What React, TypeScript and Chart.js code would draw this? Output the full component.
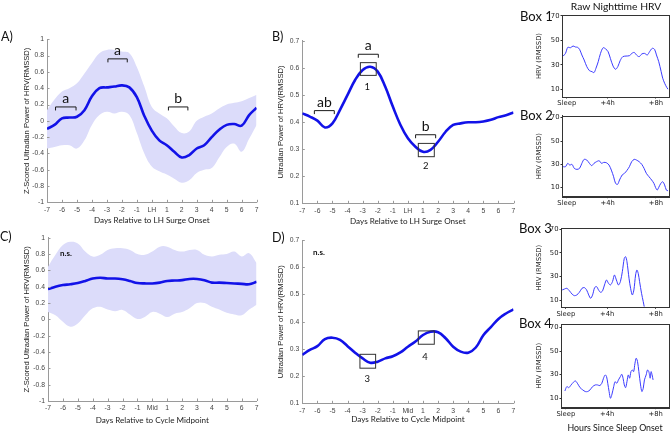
import React, { useEffect, useRef } from 'react';
import { Chart, registerables } from 'chart.js';
Chart.register(...registerables);

// ---------- data ----------
const DAYS = [-7,-6.5,-6,-5.5,-5,-4.5,-4,-3.5,-3,-2.5,-2,-1.5,-1,-0.5,0,0.5,1,1.5,2,2.5,3,3.5,4,4.5,5,5.5,6,6.5,7];

const A_MEAN = [-0.10,-0.05,0.03,0.04,0.05,0.13,0.30,0.40,0.41,0.42,0.435,0.41,0.29,0.06,-0.12,-0.24,-0.30,-0.38,-0.45,-0.42,-0.34,-0.30,-0.20,-0.11,-0.05,-0.04,-0.06,0.07,0.16];
const A_UPPER = [0.13,0.26,0.36,0.40,0.46,0.58,0.71,0.83,0.87,0.87,0.85,0.83,0.66,0.42,0.17,0.09,0.03,-0.07,-0.15,-0.13,0.0,0.05,0.09,0.15,0.20,0.22,0.24,0.28,0.32];
const A_LOWER = [-0.34,-0.32,-0.30,-0.30,-0.34,-0.24,-0.05,0.07,0.11,0.09,0.11,0.07,-0.15,-0.40,-0.56,-0.62,-0.66,-0.71,-0.76,-0.73,-0.64,-0.60,-0.58,-0.45,-0.32,-0.28,-0.38,-0.22,-0.05];

const B_MEAN = [0.432,0.42,0.405,0.38,0.395,0.445,0.50,0.555,0.592,0.604,0.586,0.53,0.457,0.39,0.34,0.309,0.29,0.297,0.327,0.364,0.389,0.395,0.399,0.399,0.402,0.408,0.418,0.425,0.435];

const C_MEAN = [0.37,0.40,0.42,0.43,0.445,0.47,0.50,0.51,0.50,0.50,0.49,0.47,0.445,0.44,0.44,0.45,0.47,0.475,0.48,0.495,0.495,0.48,0.45,0.45,0.445,0.44,0.435,0.43,0.46];
const C_UPPER = [0.645,0.79,0.91,0.95,0.93,0.83,0.77,0.79,0.85,0.87,0.87,0.85,0.80,0.79,0.83,0.89,0.89,0.85,0.83,0.85,0.85,0.79,0.77,0.79,0.80,0.83,0.77,0.81,0.69];
const C_LOWER = [0.09,0.05,-0.03,-0.09,-0.05,0.05,0.135,0.155,0.12,0.10,0.115,0.06,0.005,0.03,0.09,0.07,0.03,0.07,0.09,0.135,0.20,0.20,0.155,0.12,0.08,0.06,0.05,0.12,0.18];

const D_MEAN = [0.278,0.296,0.31,0.336,0.341,0.333,0.31,0.286,0.265,0.249,0.253,0.265,0.273,0.287,0.308,0.327,0.351,0.363,0.361,0.339,0.308,0.29,0.286,0.305,0.35,0.38,0.41,0.43,0.445];

const A_TICKS_Y = { min: -1, max: 1, step: 0.2 };
const B_TICKS_Y = { min: 0.1, max: 0.7, step: 0.1 };

const A_BRACKETS = [
  { from: -6.43, to: -5.06, y: 0.17, label: 'a' },
  { from: -2.93, to: -1.64, y: 0.76, label: 'a' },
  { from: 1.11, to: 2.41, y: 0.17, label: 'b' },
];
const B_BRACKETS = [
  { from: -6.2, to: -4.88, y: 0.442, label: 'ab' },
  { from: -3.29, to: -1.96, y: 0.65, label: 'a' },
  { from: 0.51, to: 1.84, y: 0.353, label: 'b' },
];
const B_BOXES = [
  { x0: -3.15, x1: -2.1, y0: 0.572, y1: 0.619, label: '1', lx: -2.69, ly: 0.528 },
  { x0: 0.69, x1: 1.75, y0: 0.272, y1: 0.321, label: '2', lx: 1.18, ly: 0.239 },
];
const D_BOXES = [
  { x0: -3.18, x1: -2.14, y0: 0.229, y1: 0.28, label: '3', lx: -2.69, ly: 0.188 },
  { x0: 0.69, x1: 1.75, y0: 0.317, y1: 0.366, label: '4', lx: 1.13, ly: 0.271 },
];
const C_NOTE = { x: -5.8, y: 0.81, text: 'n.s.' };
const D_NOTE = { x: -5.9, y: 0.655, text: 'n.s.' };

// raw nighttime HRV: [hours since sleep onset, RMSSD]
const BOX1 = [[0.30,37.1],[0.49,39.3],[0.68,44.2],[0.90,43.9],[1.12,45.3],[1.31,44.5],[1.50,44.2],[1.66,42.6],[1.85,38],[2.04,33.9],[2.26,28.5],[2.48,25.2],[2.69,24.4],[2.86,23.6],[3.02,27.1],[3.21,32.5],[3.40,39.3],[3.62,43.9],[3.84,42.8],[4.03,40.7],[4.22,35.2],[4.44,29],[4.65,26.3],[4.84,28.5],[5.03,33.3],[5.25,36.6],[5.52,37.1],[5.80,37.4],[6.01,39.3],[6.20,40.1],[6.39,38],[6.61,36.6],[6.83,38.8],[7.05,39.3],[7.29,38],[7.48,40.7],[7.70,43.4],[7.89,42.6],[8.05,38],[8.24,32.5],[8.44,24.4],[8.57,19],[8.73,14.9],[8.90,11.6],[9.01,10]];
const BOX2 = [[0.30,28],[0.49,28],[0.68,30.9],[0.84,29.4],[1.03,30],[1.22,26.6],[1.44,25.7],[1.66,26.6],[1.85,30.9],[2.04,34.3],[2.26,33.7],[2.48,30.9],[2.67,28.9],[2.86,30.9],[3.07,32.3],[3.29,33.1],[3.48,30.9],[3.67,31.7],[3.89,31.4],[4.11,29.4],[4.30,25.1],[4.49,19.4],[4.65,13.7],[4.82,12.9],[4.98,16.6],[5.20,20.9],[5.39,22.3],[5.58,24.6],[5.80,28],[5.99,32.3],[6.20,34.3],[6.39,33.7],[6.61,32.3],[6.83,30],[7.02,26.6],[7.21,22.3],[7.43,19.4],[7.65,16.6],[7.84,13.7],[7.97,10.3],[8.11,8],[8.24,10.3],[8.41,13.7],[8.57,15.1],[8.73,12.3],[8.87,8],[9.01,7.4]];
const BOX3 = [[0.30,18.7],[0.49,19.5],[0.68,20.1],[0.90,17.9],[1.12,15.1],[1.31,13.9],[1.50,14.5],[1.71,16.7],[1.93,20.1],[2.12,20.7],[2.31,18.7],[2.48,14.5],[2.64,11.7],[2.80,14.5],[2.97,20.7],[3.13,21.5],[3.29,18.7],[3.46,16.7],[3.62,17.9],[3.78,22.9],[3.95,27.1],[4.11,24.3],[4.27,22.9],[4.44,25.7],[4.60,31.3],[4.76,27.1],[4.93,22.9],[5.09,25.7],[5.25,34.1],[5.41,45.3],[5.52,46.7],[5.63,42.5],[5.80,28.5],[5.93,20.1],[6.07,14.5],[6.20,18.7],[6.34,31.3],[6.45,35.5],[6.56,32.5],[6.67,25.7],[6.83,15.9],[6.97,8.9],[7.05,4.7]];
const BOX4 = [[0.52,16.2],[0.68,19.9],[0.84,19],[1.03,21.3],[1.22,23.6],[1.39,24.7],[1.58,22.2],[1.77,19],[1.99,17.1],[2.20,15.7],[2.39,15.7],[2.59,17.1],[2.80,19.9],[3.02,21.3],[3.21,21.3],[3.40,20.8],[3.56,22.7],[3.70,27],[3.84,29.8],[3.95,28.4],[4.05,22.7],[4.16,15.7],[4.27,10],[4.38,12.8],[4.54,19.9],[4.65,24.1],[4.79,22.7],[4.93,25.6],[5.09,28.4],[5.20,30.4],[5.31,27],[5.41,21.3],[5.52,19],[5.63,24.1],[5.74,29.8],[5.85,27],[5.96,32.6],[6.07,34],[6.18,32.6],[6.29,39.7],[6.39,44],[6.50,41.2],[6.61,32.6],[6.75,21.3],[6.86,15.7],[6.97,18.5],[7.07,25.6],[7.21,29.8],[7.32,34],[7.43,32.6],[7.54,27],[7.62,32.6],[7.70,29.8],[7.78,25.6]];
const SMALL_Y_TICKS = [10, 30, 50, 70];
const SMALL_X_TICKS = [0.6, 4, 8];
const SMALL_X_LABELS = ['Sleep', '+4h', '+8h'];

// ---------- styles / layout ----------
const LINE = '#1212e8';
const BAND = '#dcdcfa';
const AXIS = '#9a9a9a';
const TICK_FONT = { family: 'Liberation Sans', size: 6.8 };
const Y_TITLE_FONT = { family: 'Liberation Sans', size: 7.6 };
const X_TITLE_FONT = { family: 'Lato', size: 8.1 };
const SMALL_FONT = { family: 'DejaVu Sans', size: 6.8 };

type Box = { l: number; t: number; w: number; h: number };
type Plot = { l: number; t: number; r: number; b: number };

const MAIN_SPECS = [
  { key: 'A', box: { l: 0, t: 25, w: 262, h: 205 }, plot: { l: 47, t: 39.3, r: 259, b: 202.3 }, yTitleX: 27, xTitleY: 220,
    mean: A_MEAN, upper: A_UPPER, lower: A_LOWER, yr: A_TICKS_Y, yTitle: 'Z-Scored Ultradian Power of HRV(RMSSD)',
    xTitle: 'Days Relative to LH Surge Onset', zero: 'LH', brackets: A_BRACKETS, boxes: [], note: null },
  { key: 'B', box: { l: 262, t: 25, w: 258, h: 205 }, plot: { l: 302.3, t: 40.7, r: 513.5, b: 203.3 }, yTitleX: 281, xTitleY: 221,
    mean: B_MEAN, upper: null, lower: null, yr: B_TICKS_Y, yTitle: 'Ultradian Power of HRV(RMSSD)',
    xTitle: 'Days Relative to LH Surge Onset', zero: 'LH', brackets: B_BRACKETS, boxes: B_BOXES, note: null },
  { key: 'C', box: { l: 0, t: 225, w: 262, h: 205 }, plot: { l: 48, t: 237.7, r: 259, b: 401 }, yTitleX: 27, xTitleY: 420,
    mean: C_MEAN, upper: C_UPPER, lower: C_LOWER, yr: A_TICKS_Y, yTitle: 'Z-Scored Ultradian Power of HRV(RMSSD)',
    xTitle: 'Days Relative to Cycle Midpoint', zero: 'Mid', brackets: [], boxes: [], note: C_NOTE },
  { key: 'D', box: { l: 262, t: 225, w: 258, h: 205 }, plot: { l: 302.3, t: 240, r: 513.5, b: 403.3 }, yTitleX: 281, xTitleY: 419,
    mean: D_MEAN, upper: null, lower: null, yr: B_TICKS_Y, yTitle: 'Ultradian Power of HRV(RMSSD)',
    xTitle: 'Days Relative to Cycle Midpoint', zero: 'Mid', brackets: [], boxes: D_BOXES, note: D_NOTE },
];

const SMALL_SPECS = [
  { box: { l: 528, t: 8, w: 142, h: 102 }, plot: { l: 562, t: 15, r: 668.5, b: 97 }, yMin: 3.7, yMax: 70.6, data: BOX1 },
  { box: { l: 528, t: 108, w: 142, h: 100 }, plot: { l: 562, t: 115.7, r: 668.5, b: 196.7 }, yMin: 2.3, yMax: 71.7, data: BOX2 },
  { box: { l: 528, t: 220, w: 142, h: 100 }, plot: { l: 561, t: 228.3, r: 668.5, b: 307.3 }, yMin: 4.1, yMax: 70.6, data: BOX3 },
  { box: { l: 528, t: 318, w: 142, h: 100 }, plot: { l: 561, t: 324, r: 668.5, b: 407.7 }, yMin: 2, yMax: 73, data: BOX4 },
];
const SMALL_Y_TITLE_X = 539;

function fmt(v: number) {
  const r = Math.round(v * 10) / 10;
  return r === 0 ? '0' : String(r);
}

function annotationPlugin(spec: any) {
  return {
    id: 'ann' + spec.key,
    afterDatasetsDraw(chart: any) {
      const { ctx, scales, chartArea: a } = chart;
      const x = scales.x, y = scales.y;
      ctx.save();
      // inward tick marks (MATLAB style)
      ctx.strokeStyle = AXIS;
      ctx.lineWidth = 1;
      ctx.beginPath();
      for (const t of x.ticks) {
        const px = Math.round(x.getPixelForValue(t.value)) + 0.5;
        ctx.moveTo(px, a.bottom); ctx.lineTo(px, a.bottom - 2.5);
      }
      for (const t of y.ticks) {
        const py = Math.round(y.getPixelForValue(t.value)) + 0.5;
        ctx.moveTo(a.left, py); ctx.lineTo(a.left + 2.5, py);
      }
      ctx.stroke();

      ctx.strokeStyle = '#1a1a1a';
      ctx.fillStyle = '#111';
      ctx.textAlign = 'center';
      for (const b of spec.brackets) {
        const x0 = x.getPixelForValue(b.from), x1 = x.getPixelForValue(b.to), py = y.getPixelForValue(b.y);
        ctx.beginPath();
        ctx.moveTo(x0, py + 3.5); ctx.lineTo(x0, py); ctx.lineTo(x1, py); ctx.lineTo(x1, py + 3.5);
        ctx.stroke();
        ctx.font = '14px Lato';
        ctx.textBaseline = 'alphabetic';
        ctx.fillText(b.label, (x0 + x1) / 2, py - 4);
      }
      for (const r of spec.boxes) {
        const x0 = x.getPixelForValue(r.x0), x1 = x.getPixelForValue(r.x1);
        const y0 = y.getPixelForValue(r.y1), y1 = y.getPixelForValue(r.y0);
        ctx.strokeStyle = '#333';
        ctx.strokeRect(x0, y0, x1 - x0, y1 - y0);
        ctx.font = '9.5px Lato';
        ctx.textBaseline = 'middle';
        ctx.fillText(r.label, x.getPixelForValue(r.lx), y.getPixelForValue(r.ly));
      }
      if (spec.note) {
        ctx.font = 'bold 8px Lato';
        ctx.textBaseline = 'middle';
        ctx.fillText(spec.note.text, x.getPixelForValue(spec.note.x), y.getPixelForValue(spec.note.y));
      }
      ctx.restore();
    },
  };
}

function mainConfig(spec: any) {
  const box: Box = spec.box, plot: Plot = spec.plot;
  const yLH = Y_TITLE_FONT.size * 1.2, xLH = X_TITLE_FONT.size * 1.2;
  const padL = spec.yTitleX - box.l - yLH / 2;
  const yW = plot.l - box.l - padL;
  const padR = box.l + box.w - plot.r;
  const padT = plot.t - box.t;
  const padB = box.t + box.h - spec.xTitleY - xLH / 2;
  const xH = box.t + box.h - padB - plot.b;
  const pts = (arr: number[]) => DAYS.map((d, i) => ({ x: d, y: arr[i] }));
  const datasets: any[] = [
    { data: pts(spec.mean), borderColor: LINE, borderWidth: 2.6, pointRadius: 0, tension: 0.4, fill: false },
  ];
  if (spec.upper) {
    datasets.push({ data: pts(spec.upper), borderWidth: 0, borderColor: 'rgba(0,0,0,0)', backgroundColor: BAND, pointRadius: 0, tension: 0.4, fill: '+1' });
    datasets.push({ data: pts(spec.lower), borderWidth: 0, borderColor: 'rgba(0,0,0,0)', pointRadius: 0, tension: 0.4, fill: false });
  }
  return {
    type: 'line',
    data: { datasets },
    options: {
      animation: false, responsive: false, devicePixelRatio: 1,
      layout: { padding: { left: padL, right: padR, top: padT, bottom: padB } },
      plugins: { legend: { display: false }, tooltip: { enabled: false } },
      scales: {
        x: {
          type: 'linear', min: -7, max: 7,
          afterFit: (s: any) => { s.height = xH; },
          ticks: { stepSize: 1, autoSkip: false, maxRotation: 0, padding: 3.5, font: TICK_FONT, color: '#444',
            callback: (v: number) => (v === 0 ? spec.zero : String(v)) },
          grid: { display: true, drawOnChartArea: false, drawTicks: false, color: AXIS },
          border: { display: true, color: AXIS, width: 1 },
          title: { display: true, text: spec.xTitle, font: X_TITLE_FONT, color: '#222', padding: 0 },
        },
        y: {
          type: 'linear', min: spec.yr.min, max: spec.yr.max,
          afterFit: (s: any) => { s.width = yW; },
          ticks: { stepSize: spec.yr.step, padding: 3, font: TICK_FONT, color: '#444', callback: (v: number) => fmt(v) },
          grid: { display: true, drawOnChartArea: false, drawTicks: false, color: AXIS },
          border: { display: true, color: AXIS, width: 1 },
          title: { display: true, text: spec.yTitle, font: Y_TITLE_FONT, color: '#222', padding: 0 },
        },
      },
    },
    plugins: [annotationPlugin(spec)],
  };
}

function smallConfig(spec: any, idx: number) {
  const box: Box = spec.box, plot: Plot = spec.plot;
  const yLH = SMALL_FONT.size * 1.2;
  const padL = SMALL_Y_TITLE_X - box.l - yLH / 2;
  const yW = plot.l - box.l - padL;
  const padR = box.l + box.w - plot.r;
  const padT = plot.t - box.t;
  const xH = box.t + box.h - plot.b;
  return {
    type: 'line',
    data: { datasets: [{ data: spec.data.map((p: number[]) => ({ x: p[0], y: p[1] })), borderColor: '#3b3bff', borderWidth: 1, pointRadius: 0, tension: 0.3, fill: false }] },
    options: {
      animation: false, responsive: false, devicePixelRatio: 1,
      layout: { padding: { left: padL, right: padR, top: padT, bottom: 0 } },
      plugins: { legend: { display: false }, tooltip: { enabled: false } },
      scales: {
        x: {
          type: 'linear', min: 0.2, max: 9.05,
          afterFit: (s: any) => { s.height = xH; },
          afterBuildTicks: (s: any) => { s.ticks = SMALL_X_TICKS.map((v) => ({ value: v })); },
          ticks: { autoSkip: false, maxRotation: 0, padding: 1, font: SMALL_FONT, color: '#222',
            callback: (_v: number, i: number) => SMALL_X_LABELS[i] },
          grid: { display: true, drawOnChartArea: false, tickLength: 1.5, color: '#333' },
          border: { display: true, color: '#333', width: 1 },
        },
        y: {
          type: 'linear', min: spec.yMin, max: spec.yMax,
          afterFit: (s: any) => { s.width = yW; },
          afterBuildTicks: (s: any) => { s.ticks = SMALL_Y_TICKS.map((v) => ({ value: v })); },
          ticks: { padding: 1, font: SMALL_FONT, color: '#222' },
          grid: { display: true, drawOnChartArea: false, tickLength: 1.5, color: '#333' },
          border: { display: true, color: '#333', width: 1 },
          title: { display: true, text: 'HRV (RMSSD)', font: SMALL_FONT, color: '#222', padding: 0 },
        },
      },
    },
    plugins: [{
      id: 'frame' + idx,
      afterDraw(chart: any) {
        const { ctx, chartArea: a } = chart;
        ctx.save();
        ctx.strokeStyle = '#333';
        ctx.lineWidth = 1;
        ctx.strokeRect(Math.round(a.left) + 0.5, Math.round(a.top) + 0.5, Math.round(a.right - a.left), Math.round(a.bottom - a.top));
        ctx.restore();
      },
    }],
  };
}

const TEXTS = [
  { text: 'A)', l: 1, cy: 37, size: 12.5 },
  { text: 'B)', l: 272, cy: 37, size: 12.5 },
  { text: 'C)', l: 0, cy: 237, size: 12.5 },
  { text: 'D)', l: 272, cy: 238, size: 12.5 },
  { text: 'Box 1', l: 520, cy: 16, size: 13 },
  { text: 'Box 2', l: 520, cy: 115, size: 13 },
  { text: 'Box 3', l: 519, cy: 228, size: 13 },
  { text: 'Box 4', l: 519, cy: 323, size: 13 },
];
const CENTER_TEXTS = [
  { text: 'Raw Nighttime HRV', cx: 616, cy: 5.5, size: 10.3 },
  { text: 'Hours Since Sleep Onset', cx: 615, cy: 427.5, size: 8.8 },
];

export default function App() {
  const mainRefs = useRef<(HTMLCanvasElement | null)[]>([]);
  const smallRefs = useRef<(HTMLCanvasElement | null)[]>([]);
  useEffect(() => {
    const charts: Chart[] = [];
    MAIN_SPECS.forEach((s, i) => {
      const c = mainRefs.current[i];
      if (c) charts.push(new Chart(c, mainConfig(s) as any));
    });
    SMALL_SPECS.forEach((s, i) => {
      const c = smallRefs.current[i];
      if (c) charts.push(new Chart(c, smallConfig(s, i) as any));
    });
    return () => charts.forEach((c) => c.destroy());
  }, []);

  return (
    <div style={{ position: 'absolute', left: 0, top: 0, width: 670, height: 433, background: '#fff', overflow: 'hidden', fontFamily: 'Lato', color: '#111' }}>
      {MAIN_SPECS.map((s, i) => (
        <canvas key={s.key} ref={(el) => { mainRefs.current[i] = el; }} width={s.box.w} height={s.box.h}
          style={{ position: 'absolute', left: s.box.l, top: s.box.t, width: s.box.w, height: s.box.h }} />
      ))}
      {SMALL_SPECS.map((s, i) => (
        <canvas key={'s' + i} ref={(el) => { smallRefs.current[i] = el; }} width={s.box.w} height={s.box.h}
          style={{ position: 'absolute', left: s.box.l, top: s.box.t, width: s.box.w, height: s.box.h }} />
      ))}
      {TEXTS.map((t) => (
        <div key={t.text} style={{ position: 'absolute', left: t.l, top: t.cy, transform: 'translateY(-50%)', fontSize: t.size, lineHeight: 1, whiteSpace: 'nowrap' }}>{t.text}</div>
      ))}
      {CENTER_TEXTS.map((t) => (
        <div key={t.text} style={{ position: 'absolute', left: t.cx, top: t.cy, transform: 'translate(-50%,-50%)', fontSize: t.size, lineHeight: 1, whiteSpace: 'nowrap' }}>{t.text}</div>
      ))}
    </div>
  );
}
